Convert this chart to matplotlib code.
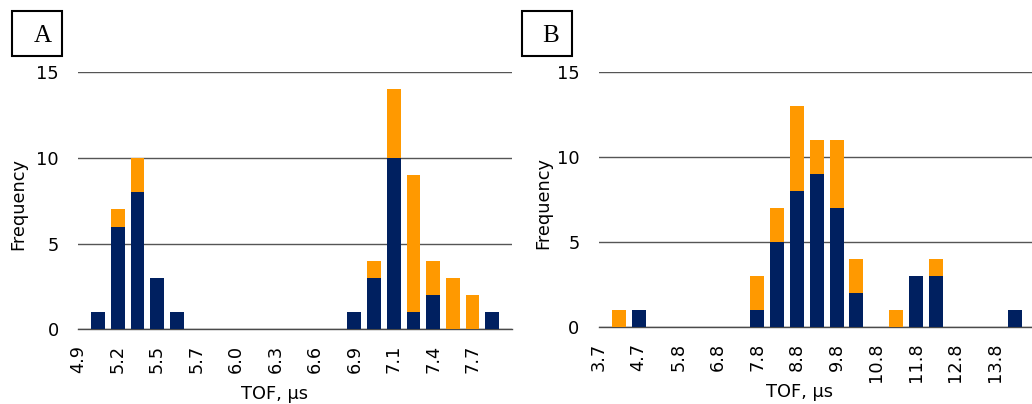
import matplotlib
matplotlib.use("Agg")
import matplotlib.pyplot as plt
from matplotlib.patches import Rectangle

# ---- data ----
cats_a = ["4.9", "5.0", "5.2", "5.3", "5.5", "5.6", "5.7", "5.9", "6.0", "6.2", "6.3", "6.4",
          "6.6", "6.7", "6.9", "7.0", "7.1", "7.3", "7.4", "7.6", "7.7", "7.8", "8.0"]
navy_a = [0, 1, 6, 8, 3, 1, 0, 0, 0, 0, 0, 0, 0, 0, 1, 3, 10, 1, 2, 0, 0, 1, 0]
orange_a = [0, 0, 1, 2, 0, 0, 0, 0, 0, 0, 0, 0, 0, 0, 0, 1, 4, 8, 2, 3, 2, 0, 0]

cats_b = ["3.7", "4.2", "4.7", "5.3", "5.8", "6.3", "6.8", "7.3", "7.8", "8.3", "8.8", "9.3",
          "9.8", "10.3", "10.8", "11.3", "11.8", "12.3", "12.8", "13.3", "13.8", "14.3", "14.8"]
navy_b = [0, 0, 1, 0, 0, 0, 0, 0, 1, 5, 8, 9, 7, 2, 0, 0, 3, 3, 0, 0, 0, 1, 0]
orange_b = [0, 1, 0, 0, 0, 0, 0, 0, 2, 2, 5, 2, 4, 2, 0, 1, 0, 1, 0, 0, 0, 0, 0]

yticks = [0, 5, 10, 15]
panel_letters = ["A", "B"]
xlabel = "TOF, µs"
ylabel = "Frequency"

NAVY = "#002060"
ORANGE = "#FF9900"
FS = 12.8

plt.rcParams['font.family'] = ['DejaVu Sans']

W, H = 1032, 404
fig = plt.figure(figsize=(W / 100, H / 100), dpi=100)


def px_axes(left, right, y0, y15):
    return [left / W, (H - y0) / H, (right - left) / W, (y0 - y15) / H]


axA = fig.add_axes(px_axes(78.3, 512.0, 329.3, 72.3))
axB = fig.add_axes(px_axes(599.0, 1034.6, 327.3, 71.7))

panels = [
    (axA, cats_a, navy_a, orange_a, (0.4515, -0.252), (-0.139, 0.4875)),
    (axB, cats_b, navy_b, orange_b, (0.461, -0.253), (-0.1286, 0.486)),
]

for ax, cats, navy, orange, xl, yl in panels:
    x = list(range(len(cats)))
    ax.bar(x, navy, width=0.7, color=NAVY, zorder=3)
    ax.bar(x, orange, width=0.7, bottom=navy, color=ORANGE, zorder=3)
    ax.set_xlim(0, len(cats) - 1)
    ax.set_ylim(0, 15)
    ax.set_yticks(yticks)
    ax.set_yticklabels([str(v) for v in yticks], fontsize=FS)
    ticks = list(range(0, len(cats) - 1, 2))
    ax.set_xticks(ticks)
    ax.set_xticklabels([cats[i] for i in ticks], rotation=90, fontsize=FS)
    ax.tick_params(axis='both', length=0)
    ax.tick_params(axis='x', pad=11)
    ax.tick_params(axis='y', pad=14)
    for s in ("top", "left", "right"):
        ax.spines[s].set_visible(False)
    ax.spines["bottom"].set_color("#4a4a4a")
    ax.spines["bottom"].set_linewidth(1.0)
    ax.yaxis.grid(True, color="#555555", linewidth=1.0, zorder=0)
    ax.set_axisbelow(True)
    ax.set_xlabel(xlabel, fontsize=FS)
    ax.xaxis.label.set_va('center')
    ax.xaxis.set_label_coords(*xl)
    ax.set_ylabel(ylabel, fontsize=FS)
    ax.yaxis.label.set_va('center')
    ax.yaxis.set_label_coords(*yl)
    ax.patch.set_alpha(0)

# panel letter boxes
boxes = [((12, 11, 62, 56), (42.5, 36.5)), ((522, 11, 572, 56), (551, 36))]
for letter, ((x0, y0, x1, y1), (tx, ty)) in zip(panel_letters, boxes):
    fig.patches.append(Rectangle((x0 / W, 1 - y1 / H), (x1 - x0) / W, (y1 - y0) / H,
                                 transform=fig.transFigure, fill=False,
                                 edgecolor="black", linewidth=1.5))
    fig.text(tx / W, 1 - ty / H, letter, ha='center', va='center',
             fontsize=18, family=['Liberation Serif', 'DejaVu Serif'])

fig.savefig("out.png", dpi=100)
